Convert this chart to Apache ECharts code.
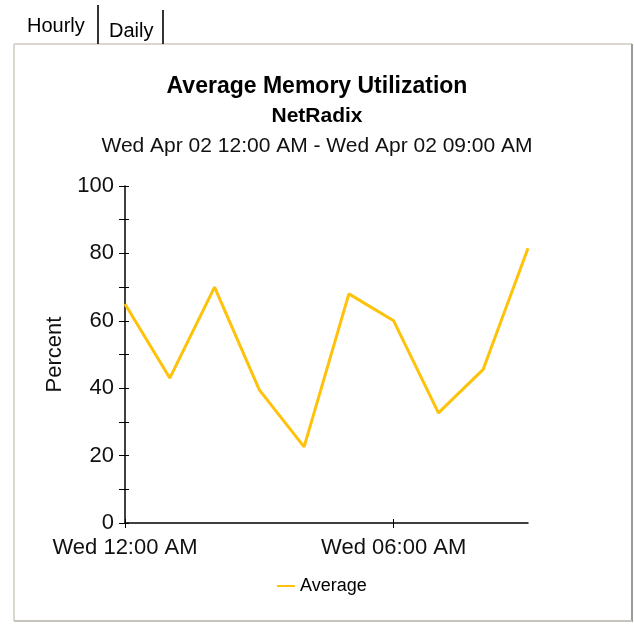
<!DOCTYPE html>
<html>
<head>
<meta charset="utf-8">
<script src="https://cdn.jsdelivr.net/npm/echarts@6/dist/echarts.min.js"></script>
<style>
  html, body { margin: 0; padding: 0; background: #fff; }
  #chart { width: 634px; height: 624px; }
</style>
</head>
<body>
<div id="chart"></div>
<script>
// hourly categories, Wed Apr 02 12:00 AM .. 09:00 AM
var hours = ['Wed 12:00 AM', 'Wed 01:00 AM', 'Wed 02:00 AM', 'Wed 03:00 AM', 'Wed 04:00 AM',
  'Wed 05:00 AM', 'Wed 06:00 AM', 'Wed 07:00 AM', 'Wed 08:00 AM', 'Wed 09:00 AM']

// average memory utilization (%)
var average = [65, 43, 70, 39.5, 22.6, 68, 60, 32.7, 45.6, 81.5]

var titleText = 'Average Memory Utilization'
var deviceName = 'NetRadix'
var rangeText = 'Wed Apr 02 12:00 AM - Wed Apr 02 09:00 AM'
var tabs = ['Hourly', 'Daily']

var font = 'Liberation Sans, Arial, sans-serif'

// only every 6th hour gets a tick and label
var everySix = function (i) { return i % 6 === 0 }

var yBase = {
  type: 'value',
  min: 0,
  max: 100,
  interval: 20,
  position: 'left'
}

var option = {
  animation: false,
  backgroundColor: '#fff',
  textStyle: { fontFamily: font },
  title: [
    {
      text: titleText,
      left: 'center',
      top: 70,
      textStyle: { fontSize: 23, fontWeight: 'bold', color: '#000', fontFamily: font }
    },
    {
      text: deviceName,
      left: 'center',
      top: 101,
      textStyle: { fontSize: 21, fontWeight: 'bold', color: '#000', fontFamily: font }
    },
    {
      text: rangeText,
      left: 'center',
      top: 131,
      textStyle: { fontSize: 21, fontWeight: 'normal', color: '#111', fontFamily: font }
    }
  ],
  legend: {
    data: ['Average'],
    left: 272,
    top: 572,
    icon: 'rect',
    itemWidth: 18,
    itemHeight: 2,
    itemGap: 6,
    textStyle: { fontSize: 18, color: '#000', fontFamily: font }
  },
  grid: {
    left: 125,
    right: 106,
    top: 186,
    bottom: 101
  },
  xAxis: [
    {
      type: 'category',
      boundaryGap: false,
      data: hours,
      axisLine: { lineStyle: { color: '#000', width: 1.5 } },
      axisTick: { length: 5, interval: function (i) { return everySix(i) }, lineStyle: { color: '#000' } },
      axisLabel: {
        interval: function (i) { return everySix(i) },
        margin: 14,
        fontSize: 22,
        color: '#111',
        fontFamily: font
      },
      splitLine: { show: false }
    },
    {
      // overlay to draw the inner half of the crossing ticks
      type: 'category',
      position: 'bottom',
      boundaryGap: false,
      data: hours,
      axisLine: { show: false },
      axisTick: { inside: true, length: 4, interval: function (i) { return everySix(i) }, lineStyle: { color: '#000' } },
      axisLabel: { show: false },
      splitLine: { show: false }
    }
  ],
  yAxis: [
    Object.assign({}, yBase, {
      name: 'Percent',
      nameLocation: 'middle',
      nameRotate: 90,
      nameGap: 58,
      nameTextStyle: { fontSize: 22, color: '#111', fontFamily: font },
      axisLine: { show: true, lineStyle: { color: '#000', width: 1.5 } },
      axisTick: { show: true, length: 6, lineStyle: { color: '#000' } },
      minorTick: { show: true, splitNumber: 2, length: 6, lineStyle: { color: '#000' } },
      axisLabel: { margin: 11, fontSize: 22, color: '#111', fontFamily: font },
      splitLine: { show: false }
    }),
    Object.assign({}, yBase, {
      axisLine: { show: false },
      axisTick: { show: true, inside: true, length: 4, lineStyle: { color: '#000' } },
      minorTick: { show: true, splitNumber: 2, length: 4, lineStyle: { color: '#000' } },
      axisLabel: { show: false },
      splitLine: { show: false }
    })
  ],
  series: [
    {
      name: 'Average',
      type: 'line',
      data: average,
      symbol: 'none',
      color: '#FFC20A',
      lineStyle: { color: '#FFC20A', width: 3 }
    }
  ],
  graphic: [
    // panel frame
    { type: 'line', shape: { x1: 14, y1: 44, x2: 632, y2: 44 }, style: { stroke: '#dcd8d0', lineWidth: 2 } },
    { type: 'line', shape: { x1: 14, y1: 44, x2: 14, y2: 621 }, style: { stroke: '#dcd8d0', lineWidth: 2 } },
    { type: 'line', shape: { x1: 632, y1: 44, x2: 632, y2: 622 }, style: { stroke: '#9a9a96', lineWidth: 2 } },
    { type: 'line', shape: { x1: 14, y1: 621, x2: 632, y2: 621 }, style: { stroke: '#c8c4bc', lineWidth: 2 } },
    // tabs
    { type: 'line', shape: { x1: 98, y1: 5, x2: 98, y2: 44 }, style: { stroke: '#333', lineWidth: 2 } },
    { type: 'line', shape: { x1: 163, y1: 10, x2: 163, y2: 44 }, style: { stroke: '#333', lineWidth: 2 } },
    { type: 'text', x: 27, y: 26, style: { text: tabs[0], font: '20px ' + font, fill: '#000', verticalAlign: 'middle' } },
    { type: 'text', x: 109, y: 31, style: { text: tabs[1], font: '20px ' + font, fill: '#000', verticalAlign: 'middle' } }
  ]
}

echarts.init(document.getElementById('chart')).setOption(option)
</script>
</body>
</html>
